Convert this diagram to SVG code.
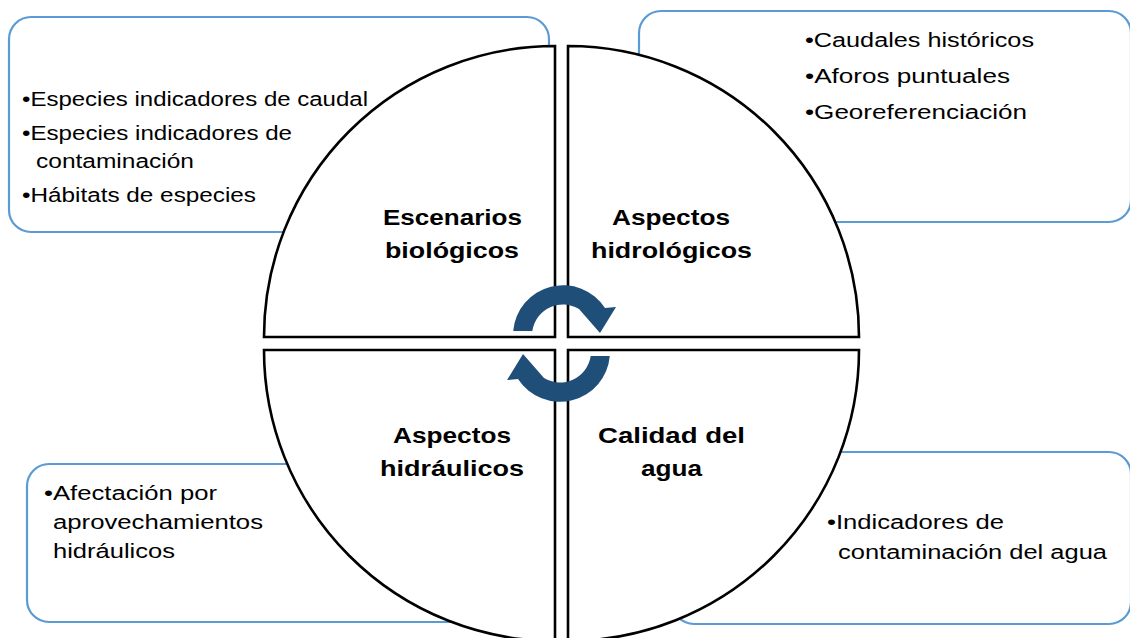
<svg xmlns="http://www.w3.org/2000/svg" xmlns:xlink="http://www.w3.org/1999/xlink" width="1130" height="638" viewBox="0 0 1130 638">
<style>
.box{fill:#fff;stroke:#5B9BD5;stroke-width:2.2}
.q{fill:#fff;stroke:#000;stroke-width:2.6;stroke-linejoin:miter}
.t{font-family:"Liberation Sans",Arial,sans-serif;font-size:19.5px;fill:#000}
.h{font-family:"Liberation Sans",Arial,sans-serif;font-size:22px;font-weight:bold;fill:#000}
.arr{fill:#1F4E79}
</style>
<defs>
<path id="arrow" d="M513.2,331 A50,50 0 0 1 605,308 L616,307 L600,333 L579,309 A31,31 0 0 0 532.3,331 Z"/>
</defs>
<rect width="1130" height="638" fill="#fff"/>
<g id="box-biologicos">
<rect class="box" x="9" y="17" width="540" height="215" rx="22"/>
</g>
<g id="box-hidrologicos">
<rect class="box" x="639" y="11" width="492" height="211" rx="22"/>
</g>
<g id="box-hidraulicos">
<rect class="box" x="27" y="464" width="518" height="158" rx="22"/>
</g>
<g id="box-calidad">
<rect class="box" x="672" y="452" width="459" height="172" rx="22"/>
</g>
<g id="quadrant-biologicos">
<path class="q" d="M555,337 H264 A291,291 0 0 1 555,46 Z"/>
<text class="h" x="383" y="225" textLength="139" lengthAdjust="spacingAndGlyphs">Escenarios</text>
<text class="h" x="385" y="258" textLength="134" lengthAdjust="spacingAndGlyphs">biológicos</text>
</g>
<g id="quadrant-hidrologicos">
<path class="q" d="M568,337 V46 A291,291 0 0 1 859,337 Z"/>
<text class="h" x="612" y="225" textLength="118" lengthAdjust="spacingAndGlyphs">Aspectos</text>
<text class="h" x="591" y="258" textLength="161" lengthAdjust="spacingAndGlyphs">hidrológicos</text>
</g>
<g id="quadrant-hidraulicos">
<path class="q" d="M555,350 V641 A291,291 0 0 1 264,350 Z"/>
<text class="h" x="393" y="443" textLength="118" lengthAdjust="spacingAndGlyphs">Aspectos</text>
<text class="h" x="380" y="476" textLength="144" lengthAdjust="spacingAndGlyphs">hidráulicos</text>
</g>
<g id="quadrant-calidad">
<path class="q" d="M568,350 H859 A291,291 0 0 1 568,641 Z"/>
<text class="h" x="598" y="443" textLength="147" lengthAdjust="spacingAndGlyphs">Calidad del</text>
<text class="h" x="641" y="476" textLength="61" lengthAdjust="spacingAndGlyphs">agua</text>
</g>
<g id="connectors">
<use xlink:href="#arrow" href="#arrow" class="arr"/>
<use xlink:href="#arrow" href="#arrow" class="arr" transform="rotate(180 561.5 343.5)"/>
</g>
<g id="text-biologicos">
<text class="t" x="22" y="106" textLength="346" lengthAdjust="spacingAndGlyphs">•Especies indicadores de caudal</text>
<text class="t" x="22" y="140" textLength="270" lengthAdjust="spacingAndGlyphs">•Especies indicadores de</text>
<text class="t" x="36" y="168" textLength="158" lengthAdjust="spacingAndGlyphs">contaminación</text>
<text class="t" x="22" y="202" textLength="234" lengthAdjust="spacingAndGlyphs">•Hábitats de especies</text>
</g>
<g id="text-hidrologicos">
<text class="t" x="805" y="47" textLength="229" lengthAdjust="spacingAndGlyphs">•Caudales históricos</text>
<text class="t" x="805" y="83" textLength="205" lengthAdjust="spacingAndGlyphs">•Aforos puntuales</text>
<text class="t" x="805" y="119" textLength="222" lengthAdjust="spacingAndGlyphs">•Georeferenciación</text>
</g>
<g id="text-hidraulicos">
<text class="t" x="44" y="500" textLength="173" lengthAdjust="spacingAndGlyphs">•Afectación por</text>
<text class="t" x="53" y="529" textLength="210" lengthAdjust="spacingAndGlyphs">aprovechamientos</text>
<text class="t" x="53" y="558" textLength="122" lengthAdjust="spacingAndGlyphs">hidráulicos</text>
</g>
<g id="text-calidad">
<text class="t" x="827" y="529" textLength="177" lengthAdjust="spacingAndGlyphs">•Indicadores de</text>
<text class="t" x="838" y="559" textLength="269" lengthAdjust="spacingAndGlyphs">contaminación del agua</text>
</g>
</svg>
